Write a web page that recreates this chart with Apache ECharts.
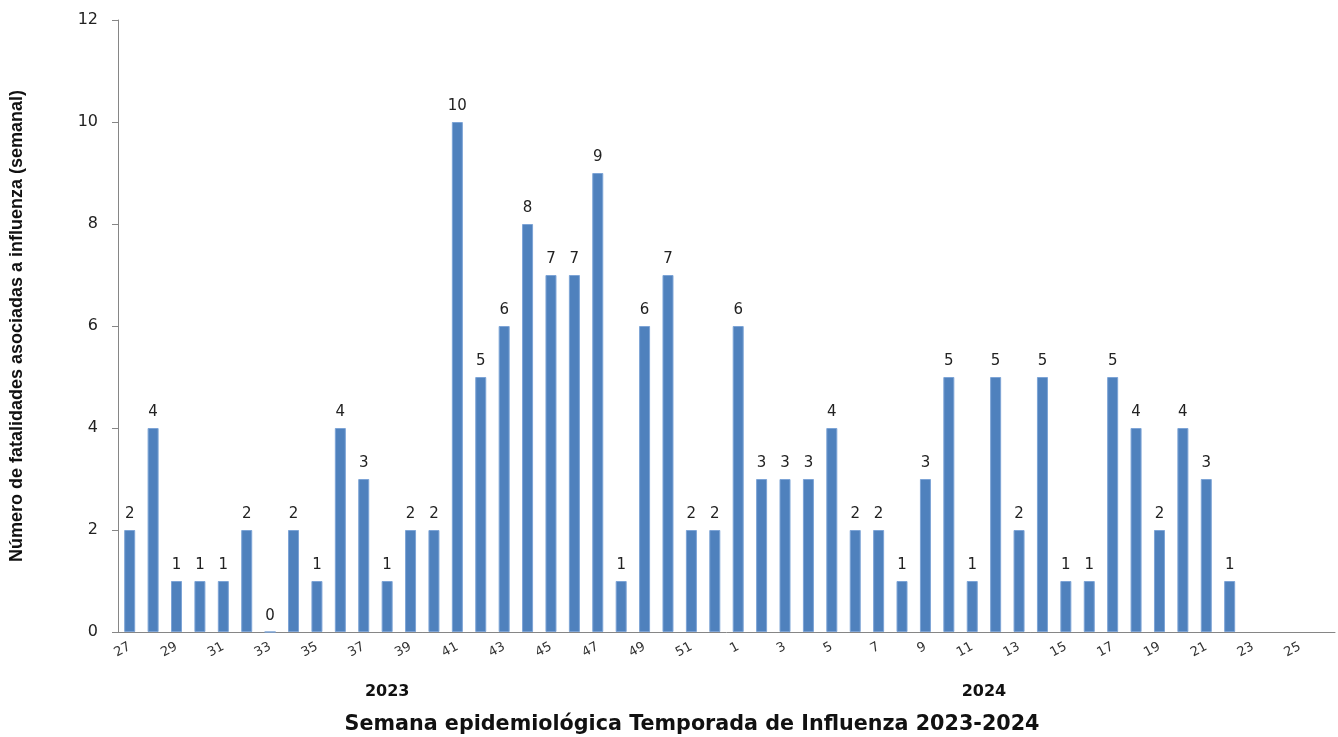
<!DOCTYPE html>
<html>
<head>
<meta charset="utf-8">
<script src="https://cdn.jsdelivr.net/npm/echarts@6/dist/echarts.min.js"></script>
<style>
  html, body { margin: 0; padding: 0; background: #fff; }
  #chart { width: 1338px; height: 737px; }
</style>
</head>
<body>
<div id="chart"></div>
<script>
// semanas 27-52 de 2023, luego 1-26 de 2024
var weeks = [
  "27", "28", "29", "30", "31", "32", "33", "34", "35", "36", "37", "38", "39",
  "40", "41", "42", "43", "44", "45", "46", "47", "48", "49", "50", "51", "52",
  "1", "2", "3", "4", "5", "6", "7", "8", "9", "10", "11", "12", "13",
  "14", "15", "16", "17", "18", "19", "20", "21", "22", "23", "24", "25", "26"
];
var deaths = [
  2, 4, 1, 1, 1, 2, 0, 2, 1, 4, 3, 1, 2,
  2, 10, 5, 6, 8, 7, 7, 9, 1, 6, 7, 2, 2,
  6, 3, 3, 3, 4, 2, 2, 1, 3, 5, 1, 5, 2,
  5, 1, 1, 5, 4, 2, 4, 3, 1, null, null, null, null
];
var yearLabels = ["2023", "2024"];
// semanas entre las que se centra cada año
var yearSpan = [["38", "38"], ["11", "12"]];
var xTitle = "Semana epidemiológica Temporada de Influenza 2023-2024";

var chart = echarts.init(document.getElementById("chart"));

var option = {
  backgroundColor: "#ffffff",
  animation: false,
  grid: {
    left: 118,
    right: 3,
    top: 20,
    bottom: 105
  },
  xAxis: {
    type: "category",
    data: weeks,
    axisLine: { lineStyle: { color: "#868686" } },
    axisTick: {
      interval: 0,
      length: 5,
      lineStyle: { color: "#868686" }
    },
    axisLabel: {
      interval: 1,
      rotate: 28,
      margin: 14,
      fontFamily: "DejaVu Sans",
      fontSize: 13,
      color: "#333"
    }
  },
  yAxis: {
    type: "value",
    min: 0,
    max: 12,
    interval: 2,
    name: "Número de fatalidades asociadas a influenza (semanal)",
    nameLocation: "middle",
    nameGap: 92,
    nameTextStyle: {
      fontFamily: "Liberation Sans",
      fontWeight: "bold",
      fontSize: 18,
      color: "#111"
    },
    axisLine: { show: true, lineStyle: { color: "#868686" } },
    axisTick: { show: true, length: 6, lineStyle: { color: "#868686" } },
    splitLine: { show: false },
    axisLabel: {
      margin: 20,
      fontFamily: "DejaVu Sans",
      fontSize: 16,
      color: "#222"
    }
  },
  series: [
    {
      type: "bar",
      data: deaths,
      barWidth: 11,
      itemStyle: {
        color: "#4f81bd",
        borderColor: "#7da4d6",
        borderWidth: 1
      },
      label: {
        show: true,
        position: "top",
        distance: 8,
        fontFamily: "DejaVu Sans",
        fontSize: 15,
        color: "#222"
      }
    }
  ]
};

chart.setOption(option);

// etiquetas de año y título del eje x
var graphics = [];
for (var i = 0; i < yearLabels.length; i++) {
  var a = chart.convertToPixel({ xAxisIndex: 0 }, yearSpan[i][0]);
  var b = chart.convertToPixel({ xAxisIndex: 0 }, yearSpan[i][1]);
  graphics.push({
    type: "text",
    x: (a + b) / 2,
    y: 692,
    style: {
      text: yearLabels[i],
      fontFamily: "DejaVu Sans",
      fontWeight: "bold",
      fontSize: 16,
      fill: "#111",
      textAlign: "center",
      textVerticalAlign: "middle"
    }
  });
}
graphics.push({
  type: "text",
  x: 692,
  y: 725,
  style: {
    text: xTitle,
    fontFamily: "DejaVu Sans",
    fontWeight: "bold",
    fontSize: 20.7,
    fill: "#111",
    textAlign: "center",
    textVerticalAlign: "middle"
  }
});
chart.setOption({ graphic: graphics });
</script>
</body>
</html>
